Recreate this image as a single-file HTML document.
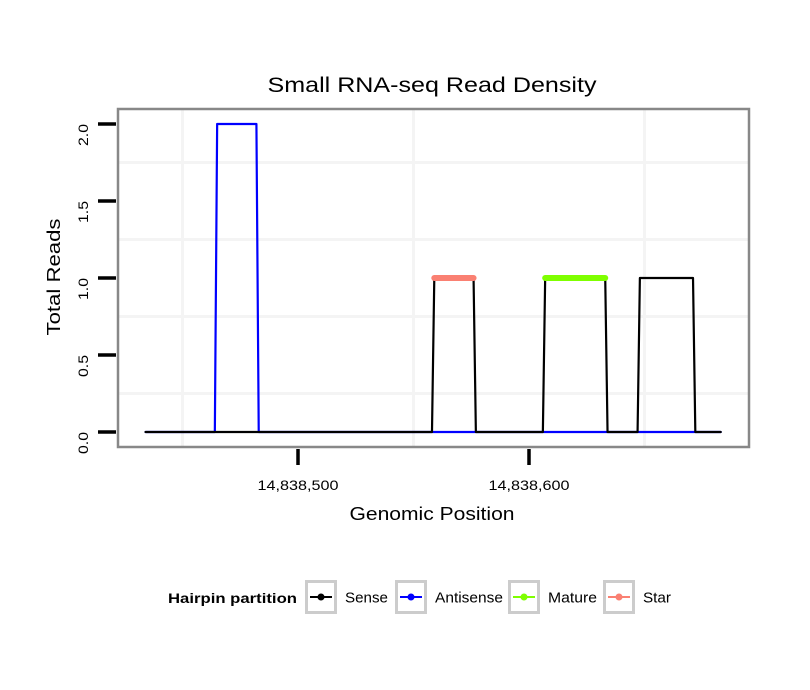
<!DOCTYPE html>
<html><head><meta charset="utf-8"><style>
body{margin:0;background:#fff;}
svg{display:block;font-family:"Liberation Sans",sans-serif;}
</style></head><body>
<svg width="810" height="690" viewBox="0 0 810 690">
<rect width="810" height="690" fill="#fff"/>
<text x="432" y="92" font-size="21" text-anchor="middle" textLength="329" lengthAdjust="spacingAndGlyphs">Small RNA-seq Read Density</text>
<g id="grid"></g>
<g id="series"></g>
<rect x="118" y="109" width="631" height="338" fill="none" stroke="#888" stroke-width="2.5"/>
<g id="axes"></g>
<text x="432" y="520" font-size="18" text-anchor="middle" textLength="165" lengthAdjust="spacingAndGlyphs">Genomic Position</text>
<text transform="translate(60,277) rotate(-90)" font-size="18" text-anchor="middle" textLength="117" lengthAdjust="spacingAndGlyphs">Total Reads</text>
<g id="legend">
<text x="168" y="603" font-size="14" font-weight="bold" textLength="129" lengthAdjust="spacingAndGlyphs">Hairpin partition</text>
</g>
</svg>
<script>
const sensePos=[14838434,14838558,14838559,14838576,14838577,14838606,14838607,14838633,14838634,14838647,14838648,14838671,14838672,14838683];
const senseVal=[0,0,1,1,0,0,1,1,0,0,1,1,0,0];
const antiPos=[14838434,14838464,14838465,14838482,14838483,14838683];
const antiVal=[0,0,2,2,0,0];
const starPos=[14838559,14838576];
const starVal=[1,1];
const maturePos=[14838607,14838633];
const matureVal=[1,1];
const yTicks=[0,0.5,1,1.5,2];
const yTickLabels=["0.0","0.5","1.0","1.5","2.0"];
const xTicks=[14838500,14838600];
const xTickLabels=["14,838,500","14,838,600"];
const NS="http://www.w3.org/2000/svg";
const X=p=>298+(p-14838500)*2.31;
const Y=v=>432-v*154;
function mk(tag,attrs,parent){const e=document.createElementNS(NS,tag);for(const k in attrs)e.setAttribute(k,attrs[k]);parent.appendChild(e);return e;}
const grid=document.getElementById('grid'),ser=document.getElementById('series'),ax=document.getElementById('axes'),lg=document.getElementById('legend');
for(const g of [14838450,14838550,14838650]){const l=mk('line',{x1:X(g),x2:X(g),y1:110,y2:446,stroke:'#f4f4f4','stroke-width':3},grid);

}
for(const g of [0.25,0.75,1.25,1.75]){const l=mk('line',{x1:119,x2:748,y1:Y(g),y2:Y(g),stroke:'#f4f4f4','stroke-width':3},grid);

}
function path(ps,vs,color,w,name){const d=ps.map((p,i)=>(i?'L':'M')+X(p)+','+Y(vs[i])).join('');const e=mk('path',{d:d,fill:'none',stroke:color,'stroke-width':w,'stroke-linecap':'round','stroke-linejoin':'round'},ser);

}
path(antiPos,antiVal,'#0000ff',2.2,'antisense-line');
path(sensePos,senseVal,'#000',2.2,'sense-line');
path(starPos,starVal,'#fa8072',6,'star-line');
path(maturePos,matureVal,'#7fff00',6,'mature-line');
yTicks.forEach((t,i)=>{const l=mk('line',{x1:98,x2:116,y1:Y(t),y2:Y(t),stroke:'#000','stroke-width':3.5},ax);


const tx=mk('text',{transform:`translate(88,${Y(t)+11}) rotate(-90)`,'font-size':14,'text-anchor':'middle',textLength:22,lengthAdjust:'spacingAndGlyphs'},ax);tx.textContent=yTickLabels[i];

});
xTicks.forEach((t,i)=>{const l=mk('line',{x1:X(t),x2:X(t),y1:449,y2:465,stroke:'#000','stroke-width':3.5},ax);


const tx=mk('text',{x:X(t),y:490,'font-size':14,'text-anchor':'middle',textLength:81,lengthAdjust:'spacingAndGlyphs'},ax);tx.textContent=xTickLabels[i];

});
const legNames=["Sense","Antisense","Mature","Star"];
const legColors=["#000","#0000ff","#7fff00","#fa8072"];
const legX=[305,395,508,603];
const legW=[43,68,49,28];
legNames.forEach((n,i)=>{const x=legX[i];
const b=mk('rect',{x:x+1.5,y:581.5,width:29,height:31,fill:'#fff',stroke:'#cccccc','stroke-width':3},lg);


mk('line',{x1:x+5,x2:x+27,y1:597,y2:597,stroke:legColors[i],'stroke-width':2},lg);
mk('circle',{cx:x+16,cy:597,r:3.5,fill:legColors[i]},lg);
const t=mk('text',{x:x+40,y:602.5,'font-size':15,textLength:legW[i],lengthAdjust:'spacingAndGlyphs'},lg);t.textContent=n;

});
</script>
</body></html>
